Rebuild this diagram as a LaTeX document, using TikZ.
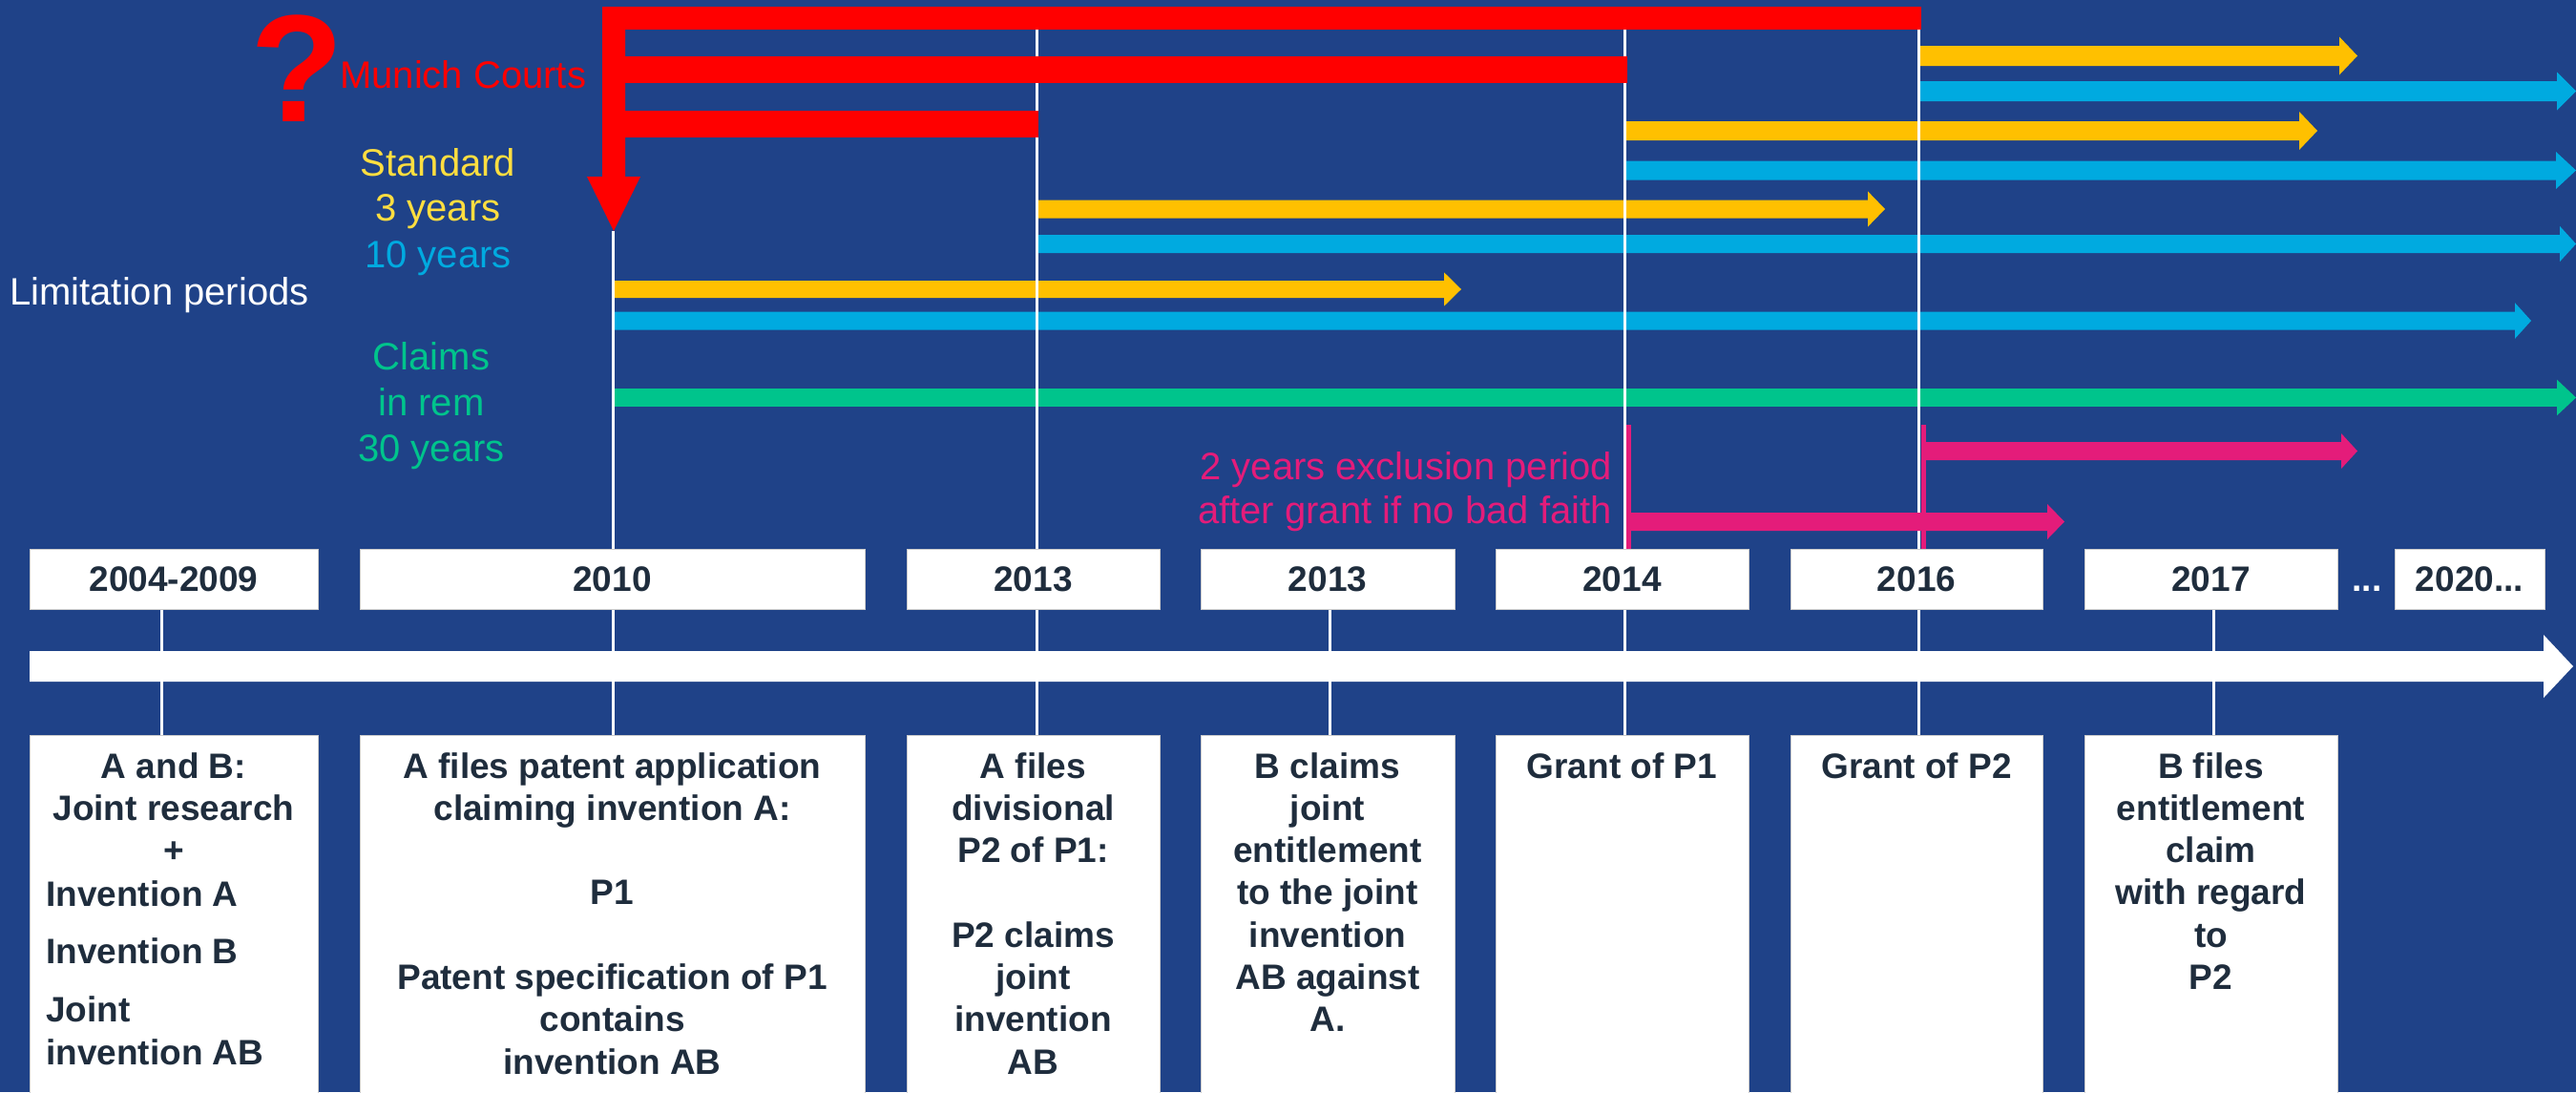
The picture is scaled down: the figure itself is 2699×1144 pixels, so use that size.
\documentclass[tikz,border=0pt]{standalone}
\usepackage{fontspec}
\setmainfont{Liberation Sans}
\definecolor{bg}{RGB}{31,66,136}
\definecolor{orng}{RGB}{255,192,0}
\definecolor{ylw}{RGB}{255,222,64}
\definecolor{blu}{RGB}{0,170,224}
\definecolor{grn}{RGB}{0,196,140}
\definecolor{rd}{RGB}{255,0,0}
\definecolor{pnk}{RGB}{228,28,122}
\definecolor{dtext}{RGB}{31,45,61}
% #1 colour, #2 start x, #3 head base x, #4 tip x, #5 centre y, #6 half shaft, #7 half head
\newcommand\blockarrow[7]{\fill[#1] (#2,#5-#6) -- (#3,#5-#6) -- (#3,#5-#7) -- (#4,#5) -- (#3,#5+#7) -- (#3,#5+#6) -- (#2,#5+#6) -- cycle;}
\begin{document}
\begin{tikzpicture}[x=1pt,y=-1pt,
  vline/.style={white,line width=3pt},
  plink/.style={pnk,line width=5pt},
  yearbox/.style={fill=white,draw=black!20,line width=0.8pt,minimum height=63pt,inner sep=0pt,
    font=\fontsize{37}{44}\selectfont\bfseries,text=dtext},
  evbox/.style={fill=white,draw=black!20,line width=0.8pt},
  evtext/.style={font=\fontsize{37}{44}\selectfont\bfseries,text=dtext,inner sep=0pt,anchor=base},
  lbl/.style={font=\fontsize{40}{46}\selectfont,inner sep=0pt,anchor=base}]
\fill[bg] (0,0) rectangle (2699,1144);
\useasboundingbox (0,0) rectangle (2699,1144);

% limitation period arrows
\blockarrow{orng}{2010}{2451}{2470}{58.5}{10.5}{20}
\blockarrow{blu}{2010}{2679}{2699}{95.5}{10.5}{20}
\blockarrow{orng}{1702}{2409}{2428}{137}{10}{20}
\blockarrow{blu}{1702}{2678}{2699}{178.5}{10}{19.5}
\blockarrow{orng}{1086}{1957}{1975}{219}{9.5}{18.6}
\blockarrow{blu}{1086}{2682}{2699}{255.5}{9.5}{18.6}
\blockarrow{orng}{642}{1513}{1531}{303}{9}{17.7}
\blockarrow{blu}{642}{2635}{2652}{336}{9.5}{18.8}
\blockarrow{grn}{642}{2679}{2699}{416.5}{9.3}{18.8}

% white date lines
\draw[vline] (642,242) -- (642,770);
\draw[vline] (1086,31) -- (1086,770);
\draw[vline] (1702,31) -- (1702,770);
\draw[vline] (2010,31) -- (2010,770);
\draw[vline] (169,638) -- (169,770);
\draw[vline] (1393,638) -- (1393,770);
\draw[vline] (2319,638) -- (2319,770);

% exclusion period
\draw[plink] (1706.5,445) -- (1706.5,575);
\draw[plink] (2015,445) -- (2015,575);
\blockarrow{pnk}{2015}{2453}{2470}{472.5}{9.5}{18.5}
\blockarrow{pnk}{1706}{2145}{2163}{546.5}{9.5}{18.5}

% red Munich courts arrows
\fill[rd] (631,7) rectangle (2013,31);
\fill[rd] (631,59) rectangle (1705,87);
\fill[rd] (631,116) rectangle (1088,144);
\fill[rd] (631,7) -- (655,7) -- (655,185) -- (671,185) -- (643,242) -- (615,185) -- (631,185) -- cycle;

% timeline arrow
\fill[white] (31,682) -- (2665,682) -- (2665,665) -- (2696,698) -- (2665,731) -- (2665,714) -- (31,714) -- cycle;

% year boxes
\node[yearbox,minimum width=302pt] (yr1) at (182,606.5) {2004-2009};
\node[yearbox,minimum width=529pt] (yr2) at (641.5,606.5) {2010};
\node[yearbox,minimum width=265pt] (yr3) at (1082.5,606.5) {2013};
\node[yearbox,minimum width=266pt] (yr4) at (1391,606.5) {2013};
\node[yearbox,minimum width=265pt] (yr5) at (1699.5,606.5) {2014};
\node[yearbox,minimum width=264pt] (yr6) at (2008,606.5) {2016};
\node[yearbox,minimum width=265pt] (yr7) at (2316.5,606.5) {2017};
\node[yearbox,minimum width=157pt] (yr8) at (2587.5,606.5) {2020...};
\node[evtext,text=white] (dots) at (2480,619.6) {...};

% event boxes
\path[evbox] (31,770) rectangle (333,1150);
\path[evbox] (377,770) rectangle (906,1150);
\path[evbox] (950,770) rectangle (1215,1150);
\path[evbox] (1258,770) rectangle (1524,1150);
\path[evbox] (1567,770) rectangle (1832,1150);
\path[evbox] (1876,770) rectangle (2140,1150);
\path[evbox] (2184,770) rectangle (2449,1150);

% event texts
\node[evtext] (e1-0) at (182,815) {A and B:};
\node[evtext] (e1-1) at (182,859) {Joint research};
\node[evtext] (e1-2) at (182,903) {+};
\node[evtext,anchor=base west] (e1-3) at (48,949) {Invention A};
\node[evtext,anchor=base west] (e1-4) at (48,1009) {Invention B};
\node[evtext,anchor=base west] (e1-5) at (48,1070) {Joint};
\node[evtext,anchor=base west] (e1-6) at (48,1115) {invention AB};
\foreach \k/\t in {0/A files patent application,1/claiming invention A:,3/P1,5/Patent specification of P1,6/contains,7/invention AB}
  \node[evtext] (e2-\k) at (641.5,815+44.3*\k) {\t};
\foreach \k/\t in {0/A files,1/divisional,2/P2 of P1:,4/P2 claims,5/joint,6/invention,7/AB}
  \node[evtext] (e3-\k) at (1082.5,815+44.3*\k) {\t};
\foreach \k/\t in {0/B claims,1/joint,2/entitlement,3/to the joint,4/invention,5/AB against,6/A.}
  \node[evtext] (e4-\k) at (1391,815+44.3*\k) {\t};
\node[evtext] (e5-0) at (1699.5,815) {Grant of P1};
\node[evtext] (e6-0) at (2008,815) {Grant of P2};
\foreach \k/\t in {0/B files,1/entitlement,2/claim,3/with regard,4/to,5/P2}
  \node[evtext] (e7-\k) at (2316.5,815+44.3*\k) {\t};

% labels
\node[lbl,anchor=base west,white] (limit) at (10,319) {Limitation periods};
\node[lbl,anchor=base west,rd] (munich) at (356,92) {Munich Courts};
\node[font=\fontsize{160}{160}\selectfont\bfseries,text=rd,inner sep=0pt,anchor=base] (qm) at (311.5,127) {?};
\node[lbl,ylw] (std) at (459,184) {Standard};
\node[lbl,ylw] (std3) at (459,231) {3 years};
\node[lbl,blu] (std10) at (459,280) {10 years};
\node[lbl,grn] (cl1) at (452,387.5) {Claims};
\node[lbl,grn] (cl2) at (452,435) {in rem};
\node[lbl,grn] (cl3) at (452,483) {30 years};
\node[lbl,anchor=base east,pnk] (ex1) at (1689,502) {2 years exclusion period};
\node[lbl,anchor=base east,pnk] (ex2) at (1689,548) {after grant if no bad faith};
\end{tikzpicture}
\end{document}
